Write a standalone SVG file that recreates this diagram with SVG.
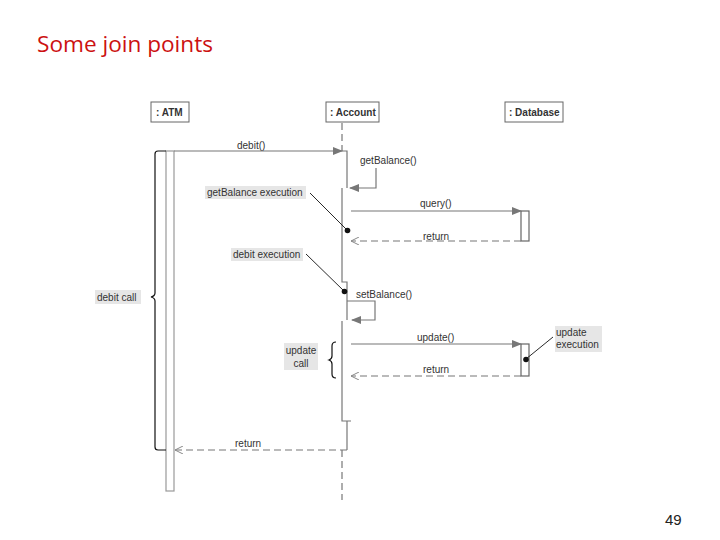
<svg xmlns="http://www.w3.org/2000/svg" width="720" height="540" viewBox="0 0 720 540">
<style>
.t{font-family:"Liberation Sans",Arial,sans-serif;font-size:10px;fill:#333}
.b{font-weight:bold}
.head{fill:#fff;stroke:#666;stroke-width:1}
.lab{fill:#e6e6e6}
.ln{stroke:#777;stroke-width:1.2;fill:none}
.dash{stroke:#777;stroke-width:1.2;fill:none;stroke-dasharray:7,4}
.lead{stroke:#111;stroke-width:0.9;fill:none}
.brace{stroke:#111;stroke-width:1.2;fill:none}
</style>
<defs>
<marker id="fa" markerWidth="10" markerHeight="8" refX="9" refY="4" orient="auto" markerUnits="userSpaceOnUse">
<path d="M0,0 L10,4 L0,8 z" fill="#777"/>
</marker>
<marker id="oa" markerWidth="10" markerHeight="8" refX="9" refY="4" orient="auto" markerUnits="userSpaceOnUse">
<path d="M1,0 L9,4 L1,8" fill="none" stroke="#888" stroke-width="1"/>
</marker>
</defs>
<rect width="720" height="540" fill="#fff"/>
<text x="37" y="52" font-family="'Open Sans','Liberation Sans',sans-serif" font-size="21" fill="#cc1111" textLength="176" lengthAdjust="spacingAndGlyphs">Some join points</text>
<text x="665" y="525" font-family="'Liberation Sans',Arial,sans-serif" font-size="15" fill="#222">49</text>

<g id="atm">
<rect class="head" x="151" y="102" width="38" height="20"/>
<text class="t b" x="156" y="115.5">: ATM</text>
<rect x="166" y="151" width="8" height="340" fill="#fff" stroke="#999" stroke-width="1.2"/>
</g>
<g id="account">
<rect class="head" x="326" y="102" width="53" height="20"/>
<text class="t b" x="330" y="115.5">: Account</text>
</g>
<g id="database">
<rect class="head" x="505" y="102" width="58" height="20"/>
<text class="t b" x="509" y="115.5">: Database</text>
<rect x="521" y="211" width="8" height="30" fill="#fff" stroke="#666" stroke-width="1.2"/>
<rect x="521" y="344" width="8" height="32" fill="#fff" stroke="#666" stroke-width="1.2"/>
</g>

<g id="connectors">
<path class="dash" d="M342,123 V151"/>
<path class="ln" d="M342,151 H347 V188"/>
<path class="ln" d="M342,188 V282 H347 V320"/>
<path class="ln" d="M342,321 V421 H351"/>
<path class="ln" d="M347,421 V450"/>
<path class="dash" d="M342,450 V500"/>
<path class="ln" d="M174,151 H342" stroke="#999" marker-end="url(#fa)"/>
<path class="ln" d="M376,168 V188 H350" marker-end="url(#fa)"/>
<path class="ln" d="M351,211 H521" marker-end="url(#fa)"/>
<path class="dash" d="M521,241 H351" marker-end="url(#oa)"/>
<path class="ln" d="M347,301 H375 V320 H352" marker-end="url(#fa)"/>
<path class="ln" d="M351,344 H521" marker-end="url(#fa)"/>
<path class="dash" d="M521,376 H351" marker-end="url(#oa)"/>
<path class="dash" d="M347,450 H175" marker-end="url(#oa)"/>
</g>

<g id="msg-labels">
<text class="t" x="237" y="149">debit()</text>
<text class="t" x="360" y="164">getBalance()</text>
<text class="t" x="420" y="207">query()</text>
<text class="t" x="423" y="240">return</text>
<text class="t" x="356" y="298">setBalance()</text>
<text class="t" x="417" y="341">update()</text>
<text class="t" x="423" y="373">return</text>
<text class="t" x="235" y="447">return</text>
</g>

<g id="getbalance-execution">
<rect class="lab" x="205" y="186" width="101" height="13"/>
<text class="t" x="207" y="196">getBalance execution</text>
<path class="lead" d="M310,193 L347,230"/>
<circle cx="347.5" cy="230.5" r="2.8" fill="#111"/>
</g>
<g id="debit-execution">
<rect class="lab" x="231" y="248" width="72" height="13"/>
<text class="t" x="233" y="258">debit execution</text>
<path class="lead" d="M306,254 L344,291"/>
<circle cx="344.5" cy="291.5" r="2.8" fill="#111"/>
</g>
<g id="update-execution">
<rect class="lab" x="555" y="326" width="47" height="26"/>
<text class="t" x="556" y="336">update</text>
<text class="t" x="556" y="348">execution</text>
<path class="lead" d="M553,337 L526,359"/>
<circle cx="526" cy="359.5" r="2.8" fill="#111"/>
</g>
<g id="update-call">
<rect class="lab" x="284" y="343" width="34" height="27"/>
<text class="t" x="301" y="354" text-anchor="middle">update</text>
<text class="t" x="301" y="367" text-anchor="middle">call</text>
<path class="brace" d="M336,342 Q332,342 332,346 V356 Q332,359 329,360 Q332,361 332,364 V374 Q332,378 336,378"/>
</g>
<g id="debit-call">
<rect class="lab" x="95" y="290" width="46" height="14"/>
<text class="t" x="97" y="300.5">debit call</text>
<path class="brace" d="M166,151 H158 Q155,151 155,154 V293 Q155,296 151,297 Q155,298 155,301 V447 Q155,450 158,450 H166"/>
</g>
</svg>
